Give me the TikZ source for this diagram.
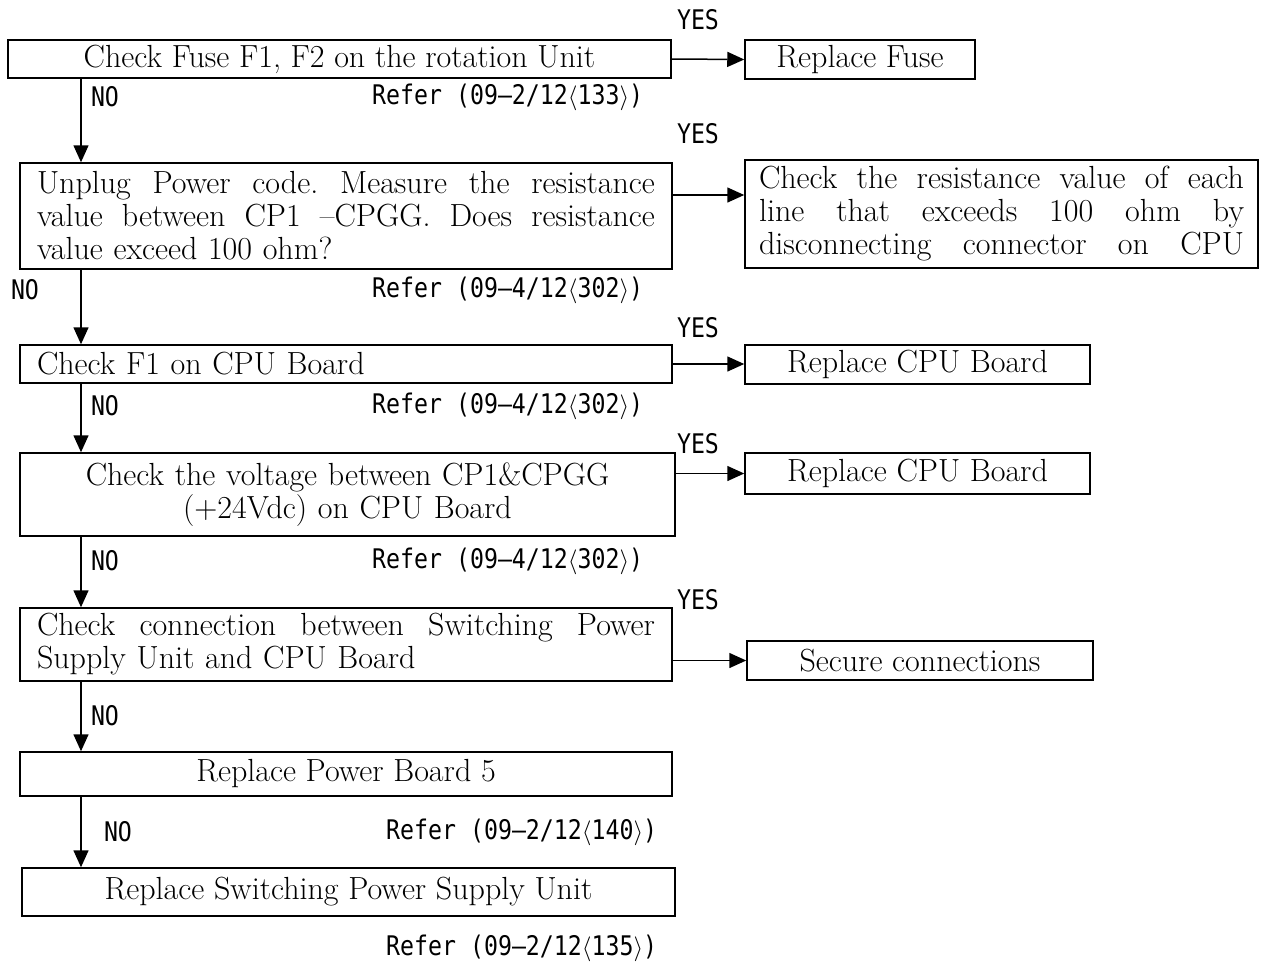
\documentclass[tikz,border=0pt]{standalone}
\usepackage{fontspec}
\newfontfamily\labfont[FakeStretch=0.86]{DejaVu Sans Mono}
\usetikzlibrary{arrows.meta}
\frenchspacing
\newcommand\jl[2][618pt]{\makebox[#1][s]{\spaceskip=0pt\xspaceskip=0pt #2}}
\newcommand\refer[1]{Refer (#1)}

\begin{document}
\begin{tikzpicture}[x=1pt,y=-1pt,font=\fontsize{32}{33}\selectfont,
  box/.style={draw,line width=1.5pt,inner xsep=17pt,inner ysep=0pt},
  arr/.style={line width=1.5pt,-{Triangle[length=17pt,width=15pt]}},
  lab/.style={font=\labfont\fontsize{27}{27}\selectfont,inner sep=0pt}]
\useasboundingbox (0,0) rectangle (1270,962);
\coordinate (col) at (81,0);
% left column
\node[box,minimum width=663pt,minimum height=38pt] (fuse) at (339.5,59) {Check Fuse F1, F2 on the rotation Unit};
\node[box,text width=618pt,minimum height=106pt,align=left] (ohm) at (346,216) {\jl{Unplug Power code. Measure the resistance}\\\jl{value between CP1 –CPGG. Does resistance}\\value exceed 100 ohm?};
\node[box,text width=618pt,minimum height=38pt,align=left] (fone) at (346,364) {Check F1 on CPU Board};
\node[box,text width=621pt,minimum height=83pt,align=center] (volt) at (347.5,494.5) {Check the voltage between CP1\&CPGG\\(+24Vdc) on CPU Board};
\node[box,text width=618pt,minimum height=73pt,align=left] (conn) at (346,644.5) {\jl{Check connection between Switching Power}\\Supply Unit and CPU Board};
\node[box,minimum width=652pt,minimum height=44pt] (pwr) at (346,774) {Replace Power Board 5};
\node[box,minimum width=653pt,minimum height=48pt] (sps) at (348.5,892) {Replace Switching Power Supply Unit};
% right column
\node[box,minimum width=230pt,minimum height=39pt] (rfuse) at (860,59.5) {Replace Fuse};
\node[box,inner xsep=14pt,text width=485pt,minimum height=108pt,align=left] (rline) at (1001.5,214) {\jl[485pt]{Check the resistance value of each}\\\jl[485pt]{line that exceeds 100 ohm by}\\\jl[485pt]{disconnecting connector on CPU}};
\node[box,minimum width=345pt,minimum height=39pt] (rcpu) at (917.5,364.5) {Replace CPU Board};
\node[box,minimum width=345pt,minimum height=41pt] (rcpub) at (917.5,473.5) {Replace CPU Board};
\node[box,minimum width=346pt,minimum height=39pt] (rconn) at (920,660.5) {Secure connections};
% NO arrows
\draw[arr] (fuse.south -| col) -- (ohm.north -| col);
\draw[arr] (ohm.south -| col) -- (fone.north -| col);
\draw[arr] (fone.south -| col) -- (volt.north -| col);
\draw[arr] (volt.south -| col) -- (conn.north -| col);
\draw[arr] (conn.south -| col) -- (pwr.north -| col);
\draw[arr] (pwr.south -| col) -- (sps.north -| col);
% YES arrows
\draw[arr] (fuse.east) -- (rfuse.west);
\draw[arr] ([yshift=21pt]ohm.east) -- ([yshift=21pt]ohm.east -| rline.west);
\draw[arr] (fone.east) -- (fone.east -| rcpu.west);
\draw[arr] (volt.east |- rcpub.west) -- (rcpub.west);
\draw[arr] (conn.east |- rconn.west) -- (rconn.west);
% labels
\node[lab] (y1) at (698,20) {YES};
\node[lab] (y2) at (698,134) {YES};
\node[lab] (y3) at (698,328) {YES};
\node[lab] (y4) at (698,444) {YES};
\node[lab] (y5) at (698,600) {YES};
\node[lab] (n1) at (105,97) {NO};
\node[lab] (n2) at (25,290) {NO};
\node[lab] (n3) at (105,406) {NO};
\node[lab] (n4) at (105,561) {NO};
\node[lab] (n5) at (105,716) {NO};
\node[lab] (n6) at (118,832) {NO};
\node[lab,anchor=west] (ref1) at (372,97) {\refer{09–2/12$\langle$133$\rangle$}};
\node[lab,anchor=west] (ref2) at (372,290) {\refer{09–4/12$\langle$302$\rangle$}};
\node[lab,anchor=west] (ref3) at (372,406) {\refer{09–4/12$\langle$302$\rangle$}};
\node[lab,anchor=west] (ref4) at (372,561) {\refer{09–4/12$\langle$302$\rangle$}};
\node[lab,anchor=west] (ref5) at (386,832) {\refer{09–2/12$\langle$140$\rangle$}};
\node[lab,anchor=west] (ref6) at (386,948) {\refer{09–2/12$\langle$135$\rangle$}};
\end{tikzpicture}
\end{document}
